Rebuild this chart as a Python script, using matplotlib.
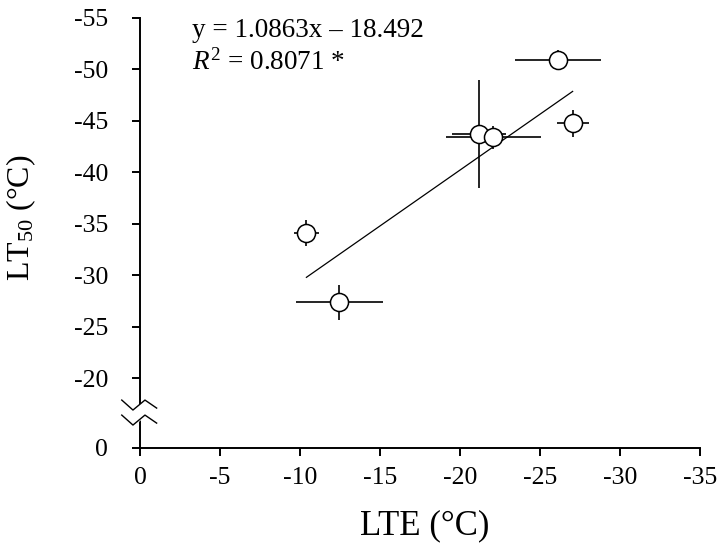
import numpy as np
import matplotlib.pyplot as plt

plt.rcParams['font.family'] = ['Liberation Serif', 'DejaVu Serif']
plt.rcParams['mathtext.fontset'] = 'custom'
plt.rcParams['mathtext.rm'] = 'Liberation Serif'
plt.rcParams['mathtext.it'] = 'Liberation Serif:italic'

# data
lte = [-10.4, -12.46, -21.2, -22.08, -26.14, -27.04]
lte_err = [0.76, 2.7, 1.7, 2.97, 2.7, 1.0]
lt50 = [-34.1, -27.36, -43.7, -43.4, -50.93, -44.78]
lt50_err = [1.25, 1.7, 5.27, 1.1, 0.95, 1.3]

slope = 1.0863
intercept = -18.492
eq_text = 'y = 1.0863x \u2013 18.492'
r2_text = '$R^2$ = 0.8071 *'

x_ticks = [0, -5, -10, -15, -20, -25, -30, -35]
y_ticks = [-20, -25, -30, -35, -40, -45, -50, -55]

# broken y axis: 0 is drawn at this position below -20
ZERO_POS = -13.2

fig = plt.figure(figsize=(7.19, 5.57), dpi=100)
ax = fig.add_axes([140 / 719, 1 - 448 / 557, 560 / 719, 430 / 557])

# regression line over range of data
xs = np.array([max(lte), min(lte)])
ax.plot(xs, slope * xs + intercept, color='black', lw=0.9, zorder=2)

ax.errorbar(lte, lt50, xerr=lte_err, yerr=lt50_err, fmt='none',
            ecolor='black', elinewidth=1.2, capsize=0, zorder=3)
for x, y in zip(lte, lt50):
    ax.plot(x, y, 'o', ms=13, mfc='white', mec='black', mew=1.1, zorder=4)

ax.set_xlim(0, -35)
ax.set_ylim(ZERO_POS, -55)

ax.set_xticks(x_ticks)
ax.set_xticklabels([str(t) for t in x_ticks])
ax.set_yticks([ZERO_POS] + y_ticks)
ax.set_yticklabels(['0'] + [str(t) for t in y_ticks])

ax.spines['top'].set_visible(False)
ax.spines['right'].set_visible(False)
for s in ['left', 'bottom']:
    ax.spines[s].set_linewidth(1.4)
ax.tick_params(axis='both', direction='out', width=1.4, length=6,
               labelsize=18.5)
ax.tick_params(axis='y', pad=17)
ax.tick_params(axis='x', pad=8)

# axis break marks
bx = np.array([1.14, 0.44, -0.31, -1.04])
by = np.array([-17.86, -16.89, -17.86, -17.08])
gap = 1.46
ax.fill_between(bx, by, by + gap, color='white', zorder=5, clip_on=False)
ax.plot(bx, by, color='black', lw=1.0, zorder=6, clip_on=False)
ax.plot(bx, by + gap, color='black', lw=1.0, zorder=6, clip_on=False)

ax.set_xlabel('LTE (\u00b0C)', fontsize=25)
ax.xaxis.set_label_coords(0.509, -0.142)
ax.set_ylabel('LT$_{50}$ (\u00b0C)', fontsize=23)
ax.yaxis.set_label_coords(-(140 - 38) / 560, 0.536)

fig.text(192 / 719, 1 - 37 / 557, eq_text, fontsize=19.5, ha='left',
         va='baseline')
fig.text(192 / 719, 1 - 70 / 557, r2_text, fontsize=19.5, ha='left',
         va='baseline')

fig.savefig('out.png', dpi=100)
